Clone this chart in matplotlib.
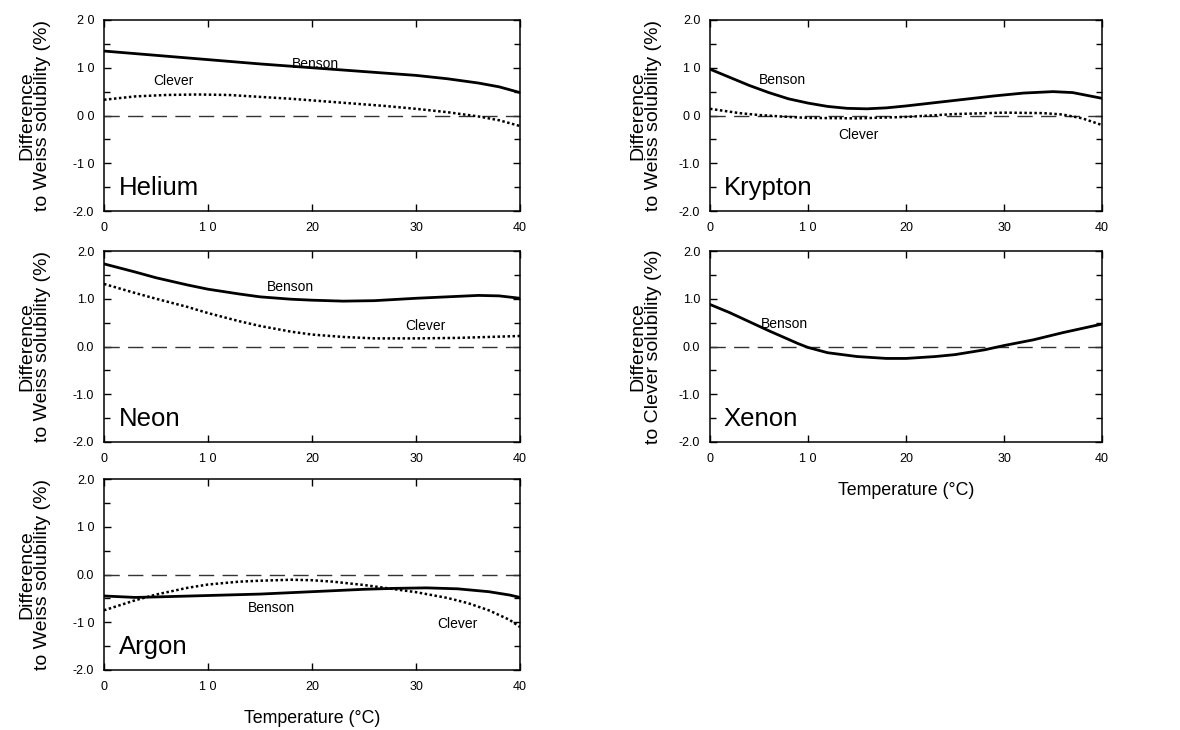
import numpy as np
import matplotlib
matplotlib.use("Agg")
import matplotlib.pyplot as plt
from matplotlib.ticker import MultipleLocator

plt.rcParams['font.family'] = ['Liberation Sans', 'DejaVu Sans']

# Helium
he_b_t = [0, 5, 10, 15, 20, 25, 30, 33, 36, 38, 40]
he_benson = [1.35, 1.26, 1.17, 1.08, 1.0, 0.92, 0.84, 0.77, 0.68, 0.60, 0.48]
he_c_t = [0, 3, 6, 9, 12, 15, 18, 21, 24, 27, 30, 33, 36, 38, 40]
he_clever = [0.33, 0.40, 0.43, 0.44, 0.43, 0.39, 0.35, 0.30, 0.25, 0.20, 0.14, 0.07, -0.02, -0.10, -0.22]

# Krypton
kr_b_t = [0, 2, 4, 6, 8, 10, 12, 14, 16, 18, 20, 23, 26, 29, 32, 35, 37, 40]
kr_benson = [0.97, 0.80, 0.63, 0.48, 0.35, 0.26, 0.19, 0.15, 0.14, 0.16, 0.20, 0.27, 0.34, 0.41, 0.47, 0.50, 0.48, 0.36]
kr_c_t = [0, 3, 5, 8, 10, 15, 20, 25, 30, 34, 36, 38, 40]
kr_clever = [0.14, 0.05, 0.01, -0.03, -0.05, -0.06, -0.03, 0.03, 0.06, 0.05, 0.02, -0.06, -0.20]

# Neon
ne_b_t = [0, 3, 5, 8, 10, 13, 15, 18, 20, 23, 26, 30, 33, 36, 38, 40]
ne_benson = [1.73, 1.56, 1.44, 1.29, 1.20, 1.10, 1.04, 0.99, 0.97, 0.95, 0.96, 1.01, 1.04, 1.07, 1.06, 1.01]
ne_c_t = [0, 3, 5, 8, 10, 13, 15, 18, 20, 23, 26, 30, 34, 37, 40]
ne_clever = [1.31, 1.12, 1.0, 0.83, 0.70, 0.53, 0.43, 0.31, 0.25, 0.20, 0.17, 0.17, 0.18, 0.20, 0.22]

# Xenon (relative to Clever)
xe_b_t = [0, 2, 4, 6, 8, 9, 10, 12, 15, 18, 20, 23, 25, 28, 30, 33, 36, 40]
xe_benson = [0.88, 0.71, 0.52, 0.33, 0.15, 0.06, -0.02, -0.13, -0.21, -0.25, -0.25, -0.21, -0.17, -0.07, 0.02, 0.14, 0.29, 0.47]

# Argon
ar_b_t = [0, 3, 5, 10, 15, 20, 25, 28, 31, 34, 37, 39, 40]
ar_benson = [-0.45, -0.48, -0.47, -0.44, -0.41, -0.36, -0.31, -0.29, -0.28, -0.30, -0.36, -0.43, -0.48]
ar_c_t = [0, 2, 3, 5, 8, 10, 13, 15, 18, 20, 22, 25, 27, 30, 33, 35, 37, 39, 40]
ar_clever = [-0.75, -0.61, -0.54, -0.42, -0.28, -0.21, -0.15, -0.13, -0.11, -0.12, -0.15, -0.22, -0.28, -0.37,
             -0.49, -0.60, -0.75, -0.95, -1.10]

xticks = [0, 10, 20, 30, 40]
xticklabels = ["0", "1 0", "20", "30", "40"]
yticks = [2, 1, 0, -1, -2]

fig = plt.figure(figsize=(11.8, 7.3), dpi=100)


def panel(rect, name, ylabels, ylab, labx, xlab=None):
    ax = fig.add_axes(rect)
    ax.set_xlim(0, 40)
    ax.set_ylim(-2, 2)
    ax.axhline(0, color='#333333', lw=1.0, dashes=(11, 6))
    ax.set_xticks(xticks)
    ax.set_xticklabels(xticklabels, fontsize=9)
    ax.set_yticks(yticks)
    ax.set_yticklabels(ylabels, fontsize=9)
    ax.yaxis.set_minor_locator(MultipleLocator(0.5))
    ax.tick_params(which='both', direction='in', top=True, right=True, length=5, width=1)
    ax.tick_params(which='minor', length=4)
    ax.tick_params(axis='x', pad=8)
    ax.tick_params(axis='y', pad=7)
    for s in ax.spines.values():
        s.set_linewidth(1.1)
    ax.set_ylabel(ylab, fontsize=14, linespacing=0.9)
    ax.yaxis.set_label_coords(labx, 0.5)
    ax.text(1.4, -1.52, name, fontsize=18.5, va='center', ha='left')
    if xlab:
        ax.set_xlabel(xlab, fontsize=12.8, labelpad=12)
    return ax


weiss = "Difference\nto Weiss solubility (%)"
clever_lab = "Difference\nto Clever solubility (%)"

L1, W1 = 104 / 1180, 416 / 1180
L2, W2 = 710 / 1180, 392 / 1180
H = 191 / 730
bl = dict(color='black', lw=2)
cl = dict(color='black', lw=1.8, dashes=(1, 1))
lab = dict(fontsize=10, ha='center', va='center')

ax = panel([L1, 1 - 211 / 730, W1, H], "Helium", ["2 0", "1 0", "0 0", "-1 0", "-2.0"], weiss, -0.127)
ax.plot(he_b_t, he_benson, **bl)
ax.plot(he_c_t, he_clever, **cl)
ax.text(20.3, 1.08, "Benson", **lab)
ax.text(6.7, 0.72, "Clever", **lab)

ax = panel([L2, 1 - 211 / 730, W2, H], "Krypton", ["2.0", "1 0", "0 0", "-1.0", "-2.0"], weiss, -0.122)
ax.plot(kr_b_t, kr_benson, **bl)
ax.plot(kr_c_t, kr_clever, **cl)
ax.text(7.35, 0.74, "Benson", **lab)
ax.text(15.1, -0.41, "Clever", **lab)

ax = panel([L1, 1 - 442 / 730, W1, H], "Neon", ["2.0", "1.0", "0.0", "-1.0", "-2.0"], weiss, -0.127)
ax.plot(ne_b_t, ne_benson, **bl)
ax.plot(ne_c_t, ne_clever, **cl)
ax.text(17.9, 1.24, "Benson", **lab)
ax.text(30.9, 0.42, "Clever", **lab)

ax = panel([L2, 1 - 442 / 730, W2, H], "Xenon", ["2.0", "1.0", "0.0", "-1.0", "-2.0"], clever_lab, -0.122,
           xlab="Temperature (°C)")
ax.plot(xe_b_t, xe_benson, **bl)
ax.text(7.6, 0.48, "Benson", **lab)

ax = panel([L1, 1 - 670 / 730, W1, H], "Argon", ["2.0", "1 0", "0.0", "-1 0", "-2.0"], weiss, -0.127,
           xlab="Temperature (°C)")
ax.plot(ar_b_t, ar_benson, **bl)
ax.plot(ar_c_t, ar_clever, **cl)
ax.text(16.1, -0.70, "Benson", **lab)
ax.text(34.0, -1.04, "Clever", **lab)

fig.savefig("out.png", dpi=100)
